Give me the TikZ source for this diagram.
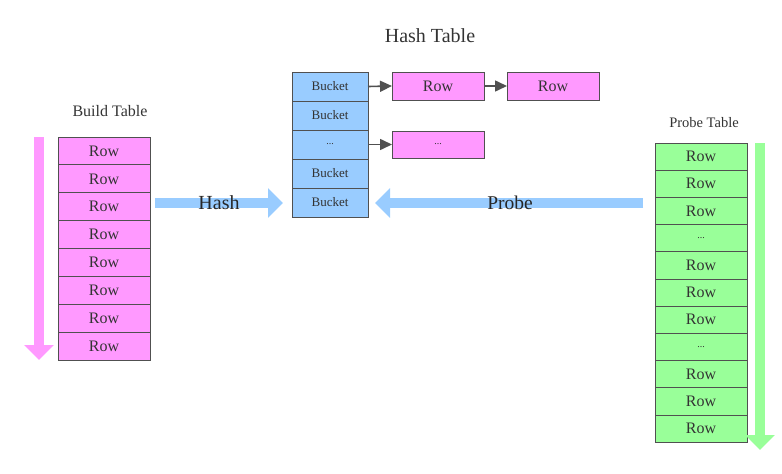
\documentclass[tikz,border=0pt]{standalone}
\usepackage{fontspec}
\setmainfont{Liberation Serif}
\usetikzlibrary{arrows.meta}
\definecolor{pinkfill}{HTML}{FF99FF}
\definecolor{bluefill}{HTML}{99CCFF}
\definecolor{greenfill}{HTML}{99FF99}
\definecolor{pinkarrow}{HTML}{FF99FF}
\definecolor{bluearrow}{HTML}{99CCFF}
\definecolor{greenarrow}{HTML}{99FF99}
\definecolor{edge}{HTML}{505050}
\definecolor{txt}{HTML}{333333}
\newcommand\smalldots{{\fontsize{10}{10}\selectfont ...}}
\tikzset{
  cell/.style={draw=edge, line width=0.9pt, minimum width=92pt, inner sep=0pt, outer sep=0pt, text=txt, font=\fontsize{16}{16}\selectfont},
  brow/.style={cell, fill=pinkfill, minimum height=27.9pt},
  prow/.style={cell, fill=greenfill, minimum height=27.2pt},
  bucket/.style={cell, fill=bluefill, minimum width=76pt, minimum height=29pt, font=\fontsize{13}{13}\selectfont},
  hrow/.style={cell, fill=pinkfill, minimum height=28pt},
  title/.style={text=txt, inner sep=0pt},
  bigarrow/.style={line width=9.5pt, -{Triangle[width=29pt,length=15pt]}},
  link/.style={draw=edge, line width=1.6pt, -{Triangle[width=11pt,length=12pt]}},
}
\begin{document}
\begin{tikzpicture}[x=1pt,y=-1pt]
\useasboundingbox (0,0) rectangle (782,474);
% titles
\node[title, font=\fontsize{20}{20}\selectfont] (htitle) at (430,36) {Hash Table};
\node[title, font=\fontsize{16}{16}\selectfont] (btitle) at (110,111) {Build Table};
\node[title, font=\fontsize{14.5}{14.5}\selectfont] (ptitle) at (704,123) {Probe Table};
% build table
\foreach \i in {0,1,2,3,4,5,6,7} {
  \node[brow, anchor=north west] (b\i) at (58,{137+27.9*\i}) {Row};
}
% probe table
\foreach \t [count=\i from 0] in {Row,Row,Row,\smalldots,Row,Row,Row,\smalldots,Row,Row,Row} {
  \node[prow, anchor=north west] (p\i) at (655,{143+27.2*\i}) {\t};
}
% hash table buckets
\foreach \t [count=\i from 0] in {Bucket,Bucket,\smalldots,Bucket,Bucket} {
  \node[bucket, anchor=north west] (k\i) at (292,{72+29*\i}) {\t};
}
\node[hrow, anchor=north west] (r1) at (392,72) {Row};
\node[hrow, anchor=north west] (r2) at (507,72) {Row};
\node[hrow, anchor=north west, minimum height=27pt] (r3) at (392,131) {\smalldots};
\draw[link] (k0.east) -- (r1.west);
\draw[link] (r1.east) -- (r2.west);
\draw[link] (k2.east) -- (r3.west);
% big arrows
\coordinate (bs) at (39,137);
\coordinate (be) at (39,360);
\draw[bigarrow, draw=pinkarrow, color=pinkarrow] (bs) -- (be);
\coordinate (ps) at (760,143);
\coordinate (pe) at (760,450);
\draw[bigarrow, draw=greenarrow, color=greenarrow] (ps) -- (pe);
\coordinate (hs) at (155,203);
\coordinate (he) at (283,203);
\draw[bigarrow, draw=bluearrow, color=bluearrow] (hs) -- (he);
\coordinate (qs) at (643,203);
\coordinate (qe) at (375,203);
\draw[bigarrow, draw=bluearrow, color=bluearrow] (qs) -- (qe);
\node[title, font=\fontsize{20}{20}\selectfont, text=black!85] (hlbl) at (219,203) {Hash};
\node[title, font=\fontsize{19.5}{19.5}\selectfont, text=black!85] (plbl) at (510,203) {Probe};
\end{tikzpicture}
\end{document}
